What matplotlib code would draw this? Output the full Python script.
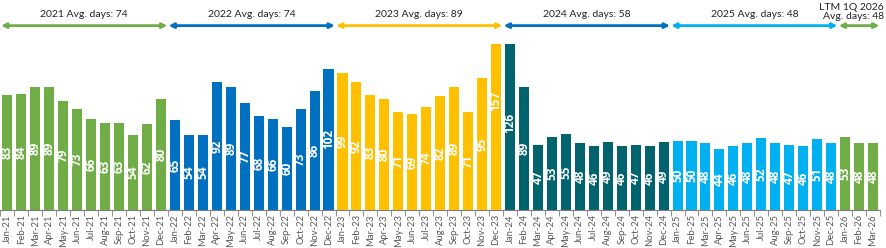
import matplotlib.pyplot as plt
import numpy as np

plt.rcParams["font.family"] = ["Lato", "DejaVu Sans"]

months = ["Jan", "Feb", "Mar", "Apr", "May", "Jun", "Jul", "Aug", "Sep", "Oct", "Nov", "Dec"]

days_2021 = [83, 84, 89, 89, 79, 73, 66, 63, 63, 54, 62, 80]
days_2022 = [65, 54, 54, 92, 89, 77, 68, 66, 60, 73, 86, 102]
days_2023 = [99, 92, 83, 80, 71, 69, 74, 82, 89, 71, 95, 157]
days_2024 = [126, 89, 47, 53, 55, 48, 46, 49, 46, 47, 46, 49]
days_2025 = [50, 50, 48, 44, 46, 48, 52, 48, 47, 46, 51, 48]
days_2026 = [53, 48, 48]

group_labels = ["2021 Avg. days: 74", "2022 Avg. days: 74", "2023 Avg. days: 89",
                "2024 Avg. days: 58", "2025 Avg. days: 48", "LTM 1Q 2026\nAvg. days: 48"]
group_years = ["21", "22", "23", "24", "25", "26"]
bar_colors = ["#70AD47", "#0070C0", "#FFC000", "#00636E", "#00B0F0", "#70AD47"]
arrow_colors = ["#70AD47", "#0070C0", "#FFC000", "#0070C0", "#00B0F0", "#70AD47"]

groups = [days_2021, days_2022, days_2023, days_2024, days_2025, days_2026]

fig = plt.figure(figsize=(8.86, 2.48), dpi=100)
ax = fig.add_axes([0.0005, 0.153, 0.9927, 0.671])

values, colors, labels, spans = [], [], [], []
for g, yr, c in zip(groups, group_years, bar_colors):
    start = len(values)
    for i, v in enumerate(g):
        values.append(v)
        colors.append(c)
        labels.append(f"{months[i]}-{yr}")
    spans.append((start, len(values) - 1))

x = np.arange(len(values))
ax.bar(x, values, width=0.72, color=colors)
ax.set_ylim(0, 120)
ax.set_xlim(-0.5, len(values) - 0.5)

for xi, v in zip(x, values):
    ax.text(xi, v / 2, str(v), rotation=90, ha="center", va="center",
            color="white", fontsize=8.5, fontweight="bold",
            family="Open Sans", clip_on=False)

# year arrows with averages
for (s, e), lab, c in zip(spans, group_labels, arrow_colors):
    ax.annotate("", xy=(s - 0.45, 133), xytext=(e + 0.45, 133),
                arrowprops=dict(arrowstyle="<|-|>", color=c, lw=2,
                                mutation_scale=7, shrinkA=0, shrinkB=0),
                annotation_clip=False)
    if "\n" in lab:
        ax.text(e + 0.8, 136, lab, ha="right", va="bottom", fontsize=7.5,
                color="#222222", linespacing=1.05, clip_on=False)
    else:
        ax.text((s + e) / 2, 141, lab, ha="center", va="center",
                fontsize=7.5, color="#222222", clip_on=False)

ax.set_xticks(x)
ax.set_xticklabels(labels, rotation=90, fontsize=6.8, color="#595959")
ax.set_xticks(np.arange(-0.5, len(values), 1), minor=True)
ax.tick_params(axis="x", which="major", length=0, pad=3)
ax.tick_params(axis="x", which="minor", length=4, color="#7f7f7f", direction="out")
ax.set_yticks([])
for side in ["top", "right", "left"]:
    ax.spines[side].set_visible(False)
ax.spines["bottom"].set_color("#7f7f7f")

fig.savefig("out.png", dpi=100)
plt.close(fig)
